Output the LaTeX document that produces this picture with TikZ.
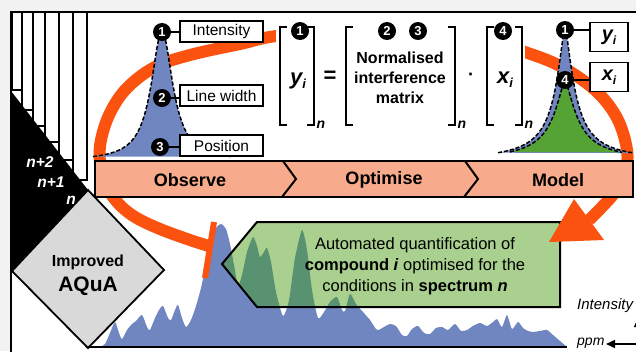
\documentclass[tikz,border=0pt]{standalone}
\usepackage{fontspec}
\setmainfont{Liberation Sans}
\usetikzlibrary{arrows.meta}
\newcommand\myfs[2]{\fontsize{#1}{#2}\selectfont}
\definecolor{bggray}{RGB}{242,242,242}
\definecolor{arcorange}{RGB}{252,82,16}
\definecolor{salmon}{RGB}{248,170,140}
\definecolor{peakblue}{RGB}{111,134,193}
\definecolor{boxgreen}{RGB}{169,208,142}
\definecolor{darkgreen}{RGB}{89,146,112}
\definecolor{peakgreen}{RGB}{84,163,52}
\definecolor{dgray}{RGB}{217,217,217}
\begin{document}
\begin{tikzpicture}[x=1pt,y=-1pt,
  lbl/.style={draw, line width=1.5pt, fill=white, inner sep=0pt, minimum width=83pt, minimum height=21pt, font=\myfs{15.5}{18}},
  num/.style={circle, fill=black, text=white, inner sep=0pt, minimum size=18pt, font=\bfseries\myfs{13}{13}},
  vbox/.style={draw, line width=1.5pt, fill=white, inner sep=0pt, minimum width=38pt, minimum height=29pt, font=\bfseries\itshape\myfs{20}{20}},
  brk/.style={line width=2.5pt},
  stage/.style={font=\bfseries\myfs{18}{20}},
  subn/.style={font=\bfseries\itshape\myfs{14}{14}, inner sep=0pt},
  pagelbl/.style={text=white, font=\bfseries\itshape\myfs{15.5}{16}, inner sep=0pt},
  conn/.style={line width=1.5pt},
  pk/.style={dashed, dash pattern=on 4pt off 2pt, line width=1.5pt}
]
\useasboundingbox (0,0) rectangle (636,351);
\clip (0,0) rectangle (636,351);
\fill[bggray] (0,0) rectangle (636,351);
\draw[line width=1.5pt, fill=white] (11,12) rectangle (650,365);

% stacked pages
\foreach \xa/\xb/\yb in {12/22/90, 22/33/110, 33/45/126, 45/59/142, 59/73/160, 73/87/180}
  \draw[line width=1.5pt, fill=white] (\xa,12) rectangle (\xb,\yb);
\fill[black] (11,91) -- (88,190) -- (12,271) -- (11,271) -- cycle;

% diamond
\draw[line width=1.8pt, fill=dgray] (88,190) -- (164,270) -- (88,348) -- (12,271) -- cycle;
\node[font=\bfseries\myfs{16}{16}] (impr) at (88,262) {Improved};
\node[font=\bfseries\myfs{21}{21}] (aqua) at (88,286) {AQuA};
\node[pagelbl] (p2) at (40,162) {n+2};
\node[pagelbl] (p1) at (51,182) {n+1};
\node[pagelbl] (p0) at (71,200) {n};

% spectrum
\fill[peakblue] plot[smooth, tension=0.4] coordinates {(100,347) (105,344) (110,333) (115,322) (119,333) (122,339) (127,330) (132,324) (136,321) (142,315) (147,327) (150,330) (155,318) (159,310) (163,306) (168,318) (171,320) (175,310) (178,305) (182,318) (186,327) (191,320) (196,306) (201,288) (206,265) (211,243) (216,228) (221,224) (226,229) (230,244) (234,265) (238,285) (242,275) (247,252) (253,237) (257,246) (260,257) (264,252) (267,248) (271,262) (276,292) (283,316) (289,300) (295,258) (302,230) (307,250) (312,290) (318,318) (324,312) (330,302) (337,297) (342,310) (345,311) (350,294) (356,304) (363,312) (370,320) (377,330) (384,327) (390,324) (396,326) (402,335) (407,336) (412,329) (418,326) (424,333) (430,334) (436,328) (442,327) (448,330) (455,324) (461,331) (467,330) (473,326) (480,323) (487,326) (493,322) (497,319) (502,327) (507,315) (512,329) (518,322) (523,328) (528,331) (533,332) (540,331) (547,330) (553,335) (560,341) (567,347)} -- cycle;
\draw[line width=2pt] (88,347) -- (567,347);

% green box
\fill[boxgreen] (222,264) -- (257,222) -- (560,222) -- (560,307) -- (257,307) -- cycle;
\begin{scope}
\clip (222,264) -- (257,222) -- (560,222) -- (560,307) -- (257,307) -- cycle;
\fill[darkgreen] plot[smooth, tension=0.4] coordinates {(100,347) (105,344) (110,333) (115,322) (119,333) (122,339) (127,330) (132,324) (136,321) (142,315) (147,327) (150,330) (155,318) (159,310) (163,306) (168,318) (171,320) (175,310) (178,305) (182,318) (186,327) (191,320) (196,306) (201,288) (206,265) (211,243) (216,228) (221,224) (226,229) (230,244) (234,265) (238,285) (242,275) (247,252) (253,237) (257,246) (260,257) (264,252) (267,248) (271,262) (276,292) (283,316) (289,300) (295,258) (302,230) (307,250) (312,290) (318,318) (324,312) (330,302) (337,297) (342,310) (345,311) (350,294) (356,304) (363,312) (370,320) (377,330) (384,327) (390,324) (396,326) (402,335) (407,336) (412,329) (418,326) (424,333) (430,334) (436,328) (442,327) (448,330) (455,324) (461,331) (467,330) (473,326) (480,323) (487,326) (493,322) (497,319) (502,327) (507,315) (512,329) (518,322) (523,328) (528,331) (533,332) (540,331) (547,330) (553,335) (560,341) (567,347)} -- cycle;
\end{scope}
\draw[line width=2pt, line join=miter] (222,264) -- (257,222) -- (560,222) -- (560,307) -- (257,307) -- cycle;
\node[align=center, font=\myfs{16.5}{21}] (gtext) at (415,266) {Automated quantification of\\\textbf{compound \textit{i}} optimised for the\\conditions in \textbf{spectrum \textit{n}}};

% orange loop
\draw[arcorange, line width=12pt] plot[smooth, tension=0.6] coordinates {(209,246) (190,240) (160,229) (135,217) (118,203) (106,185) (100,162) (101,140) (110,113) (127,88) (155,67) (190,55) (240,44) (285,35) (400,27) (475,36) (522,51) (560,66) (595,90) (617,118) (627,150) (625,172) (615,192) (601,208) (589,220)};
\fill[arcorange] (549,242) -- (574,199) -- (604,240) -- cycle;
\draw[arcorange, line width=6pt] (214,222) -- (205,278);

% left peak
\fill[peakblue] plot[domain=93:232, samples=200] (\x, {161-130/(1+((\x-162)/13)^2)}) -- cycle;
\draw[pk] plot[domain=93:232, samples=200] (\x, {161-130/(1+((\x-162)/13)^2)});

% right peaks
\fill[peakblue] plot[domain=498:634, samples=201] (\x, {161-133/(1+pow((abs(\x-565)+0.01)/11,1.5))}) -- cycle;
\draw[pk] plot[domain=498:634, samples=201] (\x, {161-133/(1+pow((abs(\x-565)+0.01)/11,1.5))});
\fill[peakgreen] plot[domain=510:622, samples=201] (\x, {161-80/(1+pow((abs(\x-565)+0.01)/14,1.5))}) -- cycle;
\draw[pk] plot[domain=510:622, samples=201] (\x, {161-80/(1+pow((abs(\x-565)+0.01)/14,1.5))});

% equation
\fill[white] (276,18) rectangle (525,134);
\draw[brk] (287,27) -| (280,125) -- (287,125);
\draw[brk] (307,27) -| (314,125) -- (307,125);
\draw[brk] (353,27) -| (346,125) -- (353,125);
\draw[brk] (448,27) -| (455,125) -- (448,125);
\draw[brk] (494,27) -| (487,125) -- (494,125);
\draw[brk] (515,27) -| (522,125) -- (515,125);
\node[subn] (n1) at (321,125) {n};
\node[subn] (n2) at (462,125) {n};
\node[subn] (n3) at (529,125) {n};
\node[font=\bfseries\itshape\myfs{22}{22}] (yi) at (298,81) {y\raisebox{-4pt}{\myfs{13}{13}i}};
\node[font=\bfseries\myfs{22}{22}] (eq) at (330,77) {=};
\node[align=center, font=\bfseries\myfs{16}{20}] (mat) at (400,78) {Normalised\\interference\\matrix};
\node[font=\bfseries\myfs{18}{18}] (dot) at (471,77) {·};
\node[font=\bfseries\itshape\myfs{22}{22}] (xi) at (505,80) {x\raisebox{-4pt}{\myfs{13}{13}i}};
\node[num] (e1) at (300,31) {1};
\node[num] (e2) at (387,31) {2};
\node[num] (e3) at (418,31) {3};
\node[num] (e4) at (503,31) {4};

% process bar
\draw[line width=2pt, fill=salmon] (95,161) rectangle (633,197);
\draw[line width=2pt] (283,161) -- (296,179) -- (282,197);
\draw[line width=2pt] (465,161) -- (478,179) -- (464,197);
\node[stage] (obs) at (190,180) {Observe};
\node[stage] (opt) at (384,180) {Optimise};
\node[stage] (mod) at (558,180) {Model};

% left peak labels
\node[lbl] (lint) at (221.5,31.5) {Intensity};
\node[lbl] (lwid) at (221.5,95.5) {Line width};
\node[lbl] (lpos) at (221.5,145.5) {Position};
\node[num] (c1) at (162,32) {1};
\node[num] (c2) at (162,98) {2};
\node[num] (c3) at (160,147) {3};
\draw[conn] (c1.east) -- (c1.east -| lint.west);
\draw[conn] (c2.east) -- (c2.east -| lwid.west);
\draw[conn] (c3.east) -- (c3.east -| lpos.west);

% right peak labels
\node[vbox] (ybox) at (609,37) {y\raisebox{-4pt}{\myfs{12}{12}i}};
\node[vbox] (xbox) at (609,77) {x\raisebox{-4pt}{\myfs{12}{12}i}};
\node[num] (r1) at (565,30) {1};
\node[num] (r4) at (565,80) {4};
\draw[conn] (r1.east) -- (r1.east -| ybox.west);
\draw[conn] (r4.east) -- (r4.east -| xbox.west);

% axes
\node[anchor=west, font=\itshape\myfs{15}{15}, inner sep=0pt] (ilab) at (577,306) {Intensity};
\node[anchor=west, font=\itshape\myfs{14}{14}, inner sep=0pt] (plab) at (577,343) {ppm};
\coordinate (ax0) at (645,344);
\coordinate (axx) at (606,344);
\coordinate (ax1) at (638,355);
\coordinate (axy) at (638,318);
\draw[line width=1.5pt, -{Triangle[length=9pt,width=8pt]}] (ax0) -- (axx);
\draw[line width=1.5pt, -{Triangle[length=9pt,width=8pt]}] (ax1) -- (axy);
\end{tikzpicture}
\end{document}
